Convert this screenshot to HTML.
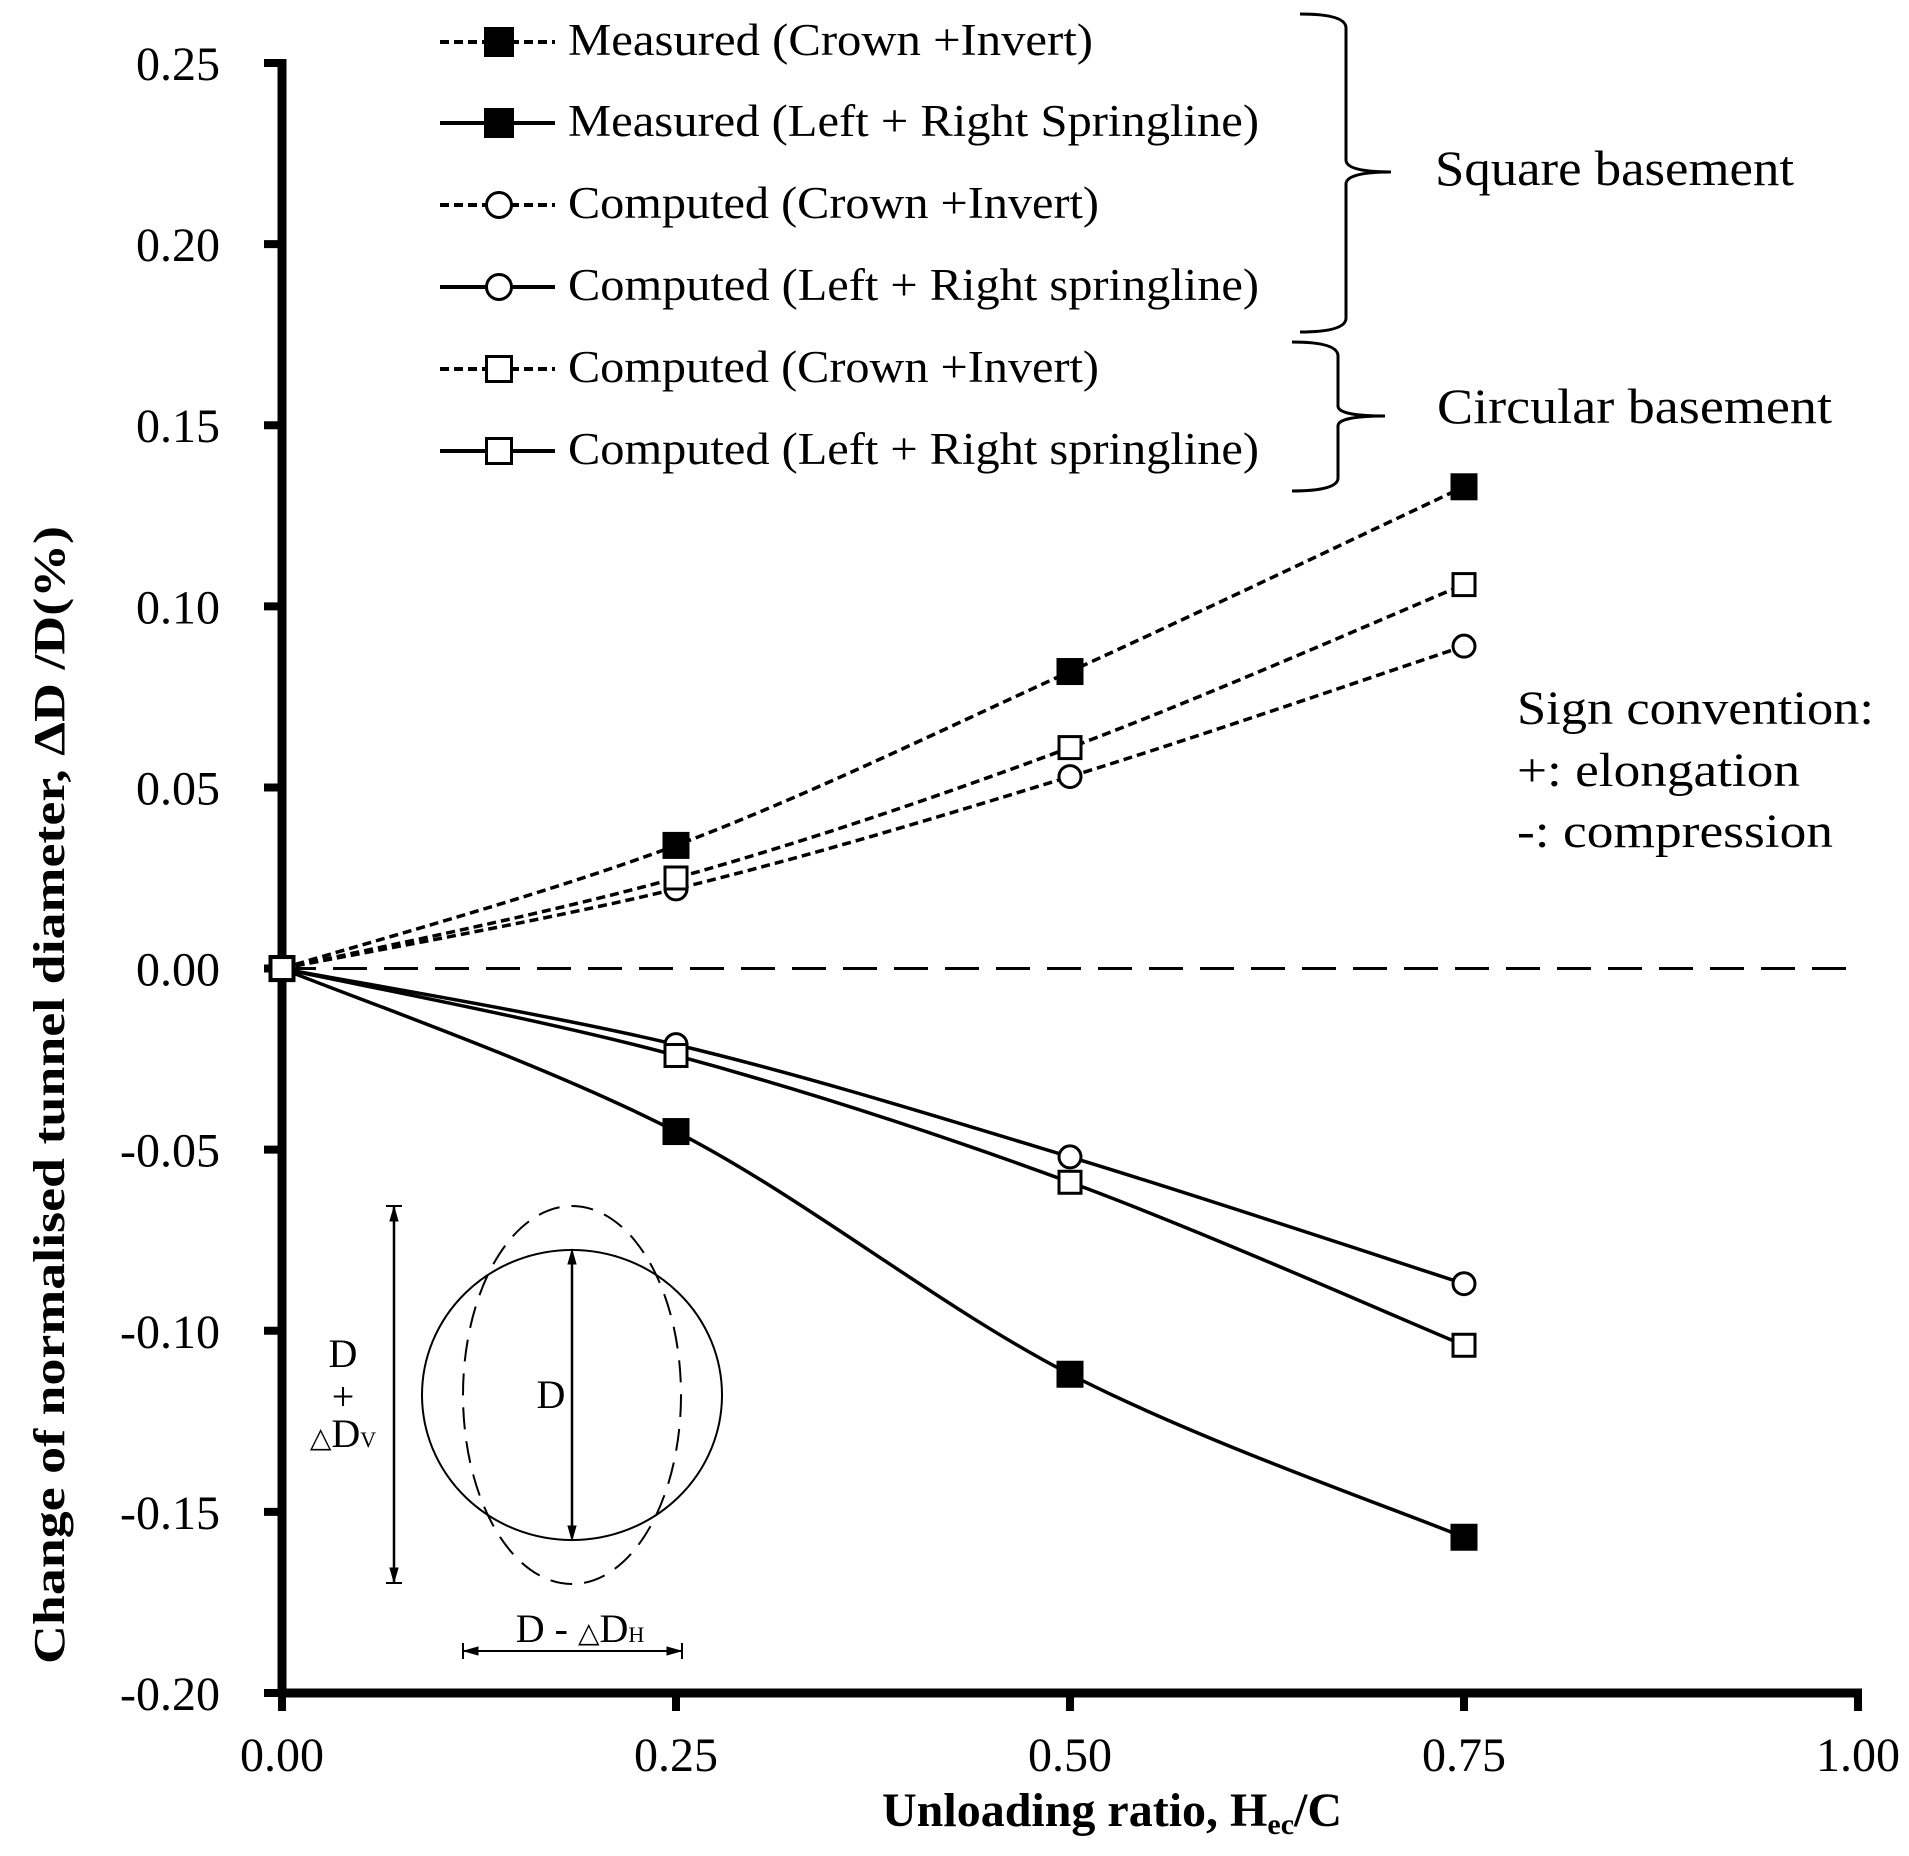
<!DOCTYPE html>
<html><head><meta charset="utf-8"><style>
html,body{margin:0;padding:0;background:#fff}
svg{display:block}
text{font-family:"Liberation Serif","Times New Roman",serif;fill:#000}
</style></head><body>
<svg id="chart" width="1909" height="1856" viewBox="0 0 1909 1856" xmlns="http://www.w3.org/2000/svg">
<g id="axes"></g>
<g id="series"></g>
<g id="legend"></g>
<g fill="none" stroke="#000" stroke-width="3">
<path d="M1300,14 Q1346,14 1346,28 L1346,160 Q1346,172 1391,172 Q1346,172 1346,184 L1346,318 Q1346,332 1300,332"/>
</g>
<text x="1435" y="185" font-size="50" textLength="359" lengthAdjust="spacingAndGlyphs">Square basement</text>
<g fill="none" stroke="#000" stroke-width="3">
<path d="M1292,342 Q1338,342 1338,356 L1338,406 Q1338,416 1385,416 Q1338,416 1338,426 L1338,478 Q1338,491 1292,491"/>
</g>
<text x="1437" y="423" font-size="50" textLength="395" lengthAdjust="spacingAndGlyphs">Circular basement</text>
<g font-size="48">
<text x="1517" y="724" textLength="357" lengthAdjust="spacingAndGlyphs">Sign convention:</text>
<text x="1517" y="786" textLength="283" lengthAdjust="spacingAndGlyphs">+: elongation</text>
<text x="1517" y="847" textLength="316" lengthAdjust="spacingAndGlyphs">-: compression</text>
</g>
<g fill="none" stroke="#000">
<ellipse cx="572" cy="1395" rx="150" ry="145" stroke-width="2"/>
<ellipse cx="572" cy="1395" rx="109" ry="189" stroke-width="2" stroke-dasharray="22 12"/>
<line x1="572" y1="1252" x2="572" y2="1538" stroke-width="2.5"/>
<path d="M572,1250 l-4,14 h8z M572,1540 l-4,-14 h8z" fill="#000"/>
<line x1="394" y1="1206" x2="394" y2="1583" stroke-width="2.5"/>
<line x1="386" y1="1206" x2="402" y2="1206" stroke-width="2"/>
<line x1="386" y1="1583" x2="402" y2="1583" stroke-width="2"/>
<path d="M394,1207 l-4,14 h8z M394,1582 l-4,-14 h8z" fill="#000"/>
<line x1="463" y1="1651" x2="682" y2="1651" stroke-width="2"/>
<line x1="463" y1="1643" x2="463" y2="1659" stroke-width="2"/>
<line x1="682" y1="1643" x2="682" y2="1659" stroke-width="2"/>
<path d="M464,1651 l14,-4 v8z M681,1651 l-14,-4 v8z" fill="#000"/>
</g>
<g font-size="40">
<text x="551" y="1408" text-anchor="middle">D</text>
<text x="343" y="1367" text-anchor="middle">D</text>
<text x="343" y="1410" text-anchor="middle">+</text>
<text x="343" y="1447" text-anchor="middle"><tspan font-size="28">△</tspan>D<tspan font-size="22">V</tspan></text>
<text x="580" y="1642" text-anchor="middle">D  -  <tspan font-size="28">△</tspan>D<tspan font-size="22">H</tspan></text>
</g>
<text transform="translate(64,1095) rotate(-90)" text-anchor="middle" font-size="44" font-weight="bold" textLength="1138" lengthAdjust="spacingAndGlyphs">Change of normalised tunnel diameter,  ΔD /D(%)</text>
<text x="882" y="1826" font-size="48" font-weight="bold">Unloading ratio,  H<tspan font-size="30" dy="8">ec</tspan><tspan dy="-8">/C</tspan></text>
</svg>
<script>
const xTicks = [0, 0.25, 0.5, 0.75, 1.0];
const xTickLabels = ["0.00", "0.25", "0.50", "0.75", "1.00"];
const yTicks = [0.25, 0.2, 0.15, 0.1, 0.05, 0, -0.05, -0.1, -0.15, -0.2];
const yTickLabels = ["0.25", "0.20", "0.15", "0.10", "0.05", "0.00", "-0.05", "-0.10", "-0.15", "-0.20"];
const xValues = [0, 0.25, 0.5, 0.75];
const measuredCrown = [0, 0.034, 0.082, 0.133];
const measuredSpring = [0, -0.045, -0.112, -0.157];
const squareCompCrown = [0, 0.022, 0.053, 0.089];
const squareCompSpring = [0, -0.021, -0.052, -0.087];
const circCompCrown = [0, 0.025, 0.061, 0.106];
const circCompSpring = [0, -0.024, -0.059, -0.104];

const NS = "http://www.w3.org/2000/svg";
const X0 = 282, X1 = 1858, YT = 63, YB = 1693;
function sx(v){ return X0 + (v - 0) / (1 - 0) * (X1 - X0); }
function sy(v){ return YT + (0.25 - v) / (0.25 - (-0.2)) * (YB - YT); }
function mk(tag, attrs, parent){
  const e = document.createElementNS(NS, tag);
  for (const k in attrs) e.setAttribute(k, attrs[k]);
  parent.appendChild(e);
  return e;
}
const axes = document.getElementById("axes");
const ser = document.getElementById("series");
const leg = document.getElementById("legend");

const zl = mk("line", {x1: sx(0), x2: sx(1), y1: sy(0), y2: sy(0), stroke: "#000", "stroke-width": 3, "stroke-dasharray": "34 17"}, axes);



const ya = mk("line", {x1: X0, x2: X0, y1: YT - 4, y2: YB + 4, stroke: "#000", "stroke-width": 9}, axes);


const xa = mk("line", {x1: X0 - 4, x2: X1 + 4, y1: YB, y2: YB, stroke: "#000", "stroke-width": 9}, axes);



yTicks.forEach((v, i) => {
  const t = mk("line", {x1: X0 - 18, x2: X0, y1: sy(v), y2: sy(v), stroke: "#000", "stroke-width": 8}, axes);
  
  
  const l = mk("text", {x: 220, y: sy(v) + 17, "text-anchor": "end", "font-size": 48}, axes);
  l.textContent = yTickLabels[i];
  
  
});
xTicks.forEach((v, i) => {
  const t = mk("line", {x1: sx(v), x2: sx(v), y1: YB, y2: YB + 18, stroke: "#000", "stroke-width": 8}, axes);
  
  
  const l = mk("text", {x: sx(v), y: 1771, "text-anchor": "middle", "font-size": 48}, axes);
  l.textContent = xTickLabels[i];
  
  
});

function smoothPath(pts){
  let d = "M" + pts[0][0] + "," + pts[0][1];
  for (let i = 0; i < pts.length - 1; i++){
    const p0 = pts[i - 1] || pts[i], p1 = pts[i], p2 = pts[i + 1], p3 = pts[i + 2] || pts[i + 1];
    const c1x = p1[0] + (p2[0] - p0[0]) / 6, c1y = p1[1] + (p2[1] - p0[1]) / 6;
    const c2x = p2[0] - (p3[0] - p1[0]) / 6, c2y = p2[1] - (p3[1] - p1[1]) / 6;
    d += " C" + c1x + "," + c1y + " " + c2x + "," + c2y + " " + p2[0] + "," + p2[1];
  }
  return d;
}
function marker(type, cx, cy, parent, size){
  let m;
  if (type === "fsq") m = mk("rect", {x: cx - size/2, y: cy - size/2, width: size, height: size, fill: "#000"}, parent);
  else if (type === "osq") m = mk("rect", {x: cx - size/2 + 1.5, y: cy - size/2 + 1.5, width: size - 3, height: size - 3, fill: "#fff", stroke: "#000", "stroke-width": 3}, parent);
  else m = mk("circle", {cx: cx, cy: cy, r: size/2 - 1.5, fill: "#fff", stroke: "#000", "stroke-width": 3}, parent);
  return m;
}
const seriesDefs = [
  {name: "measured-crown-invert", vals: measuredCrown, dash: true, m: "fsq", label: "Measured (Crown +Invert)", len: 525},
  {name: "measured-left-right-springline", vals: measuredSpring, dash: false, m: "fsq", label: "Measured (Left + Right Springline)", len: 691},
  {name: "square-computed-crown-invert", vals: squareCompCrown, dash: true, m: "circ", label: "Computed (Crown +Invert)", len: 531},
  {name: "square-computed-left-right-springline", vals: squareCompSpring, dash: false, m: "circ", label: "Computed (Left + Right springline)", len: 691},
  {name: "circular-computed-crown-invert", vals: circCompCrown, dash: true, m: "osq", label: "Computed (Crown +Invert)", len: 531},
  {name: "circular-computed-left-right-springline", vals: circCompSpring, dash: false, m: "osq", label: "Computed (Left + Right springline)", len: 691}
];
const legendY = [42, 123, 205, 287, 369, 451];
seriesDefs.forEach((s, si) => {
  const g = mk("g", {}, ser);
  
  
  const pts = xValues.map((x, i) => [sx(x), sy(s.vals[i])]);
  const attrs = {d: smoothPath(pts), fill: "none", stroke: "#000", "stroke-width": 3.5};
  if (s.dash) attrs["stroke-dasharray"] = "9 5";
  const p = mk("path", attrs, g);
  
  
  pts.forEach(pt => {
    const m = marker(s.m, pt[0], pt[1], g, s.m === "fsq" ? 27 : 25);
    
    
  });
  const lg = mk("g", {}, leg);
  
  
  const la = {x1: 440, x2: 555, y1: legendY[si], y2: legendY[si], stroke: "#000", "stroke-width": 4};
  if (s.dash) la["stroke-dasharray"] = "9 5";
  mk("line", la, lg);
  marker(s.m, 499, legendY[si], lg, s.m === "fsq" ? 30 : 28);
  const t = mk("text", {x: 568, y: legendY[si] + 13, "font-size": 45, textLength: s.len, lengthAdjust: "spacingAndGlyphs"}, lg);
  t.textContent = s.label;
});
</script>
</body></html>
